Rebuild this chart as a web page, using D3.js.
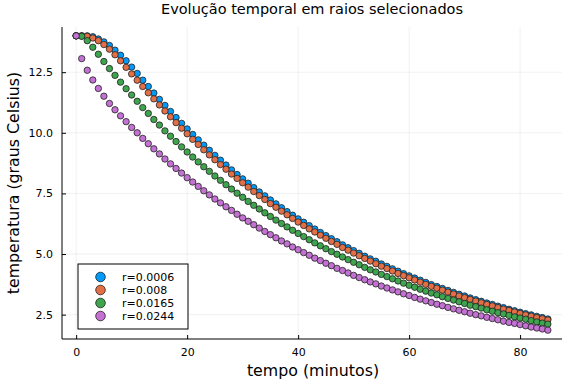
<!DOCTYPE html>
<html>
<head>
<meta charset="utf-8">
<script src="https://cdn.jsdelivr.net/npm/d3@7"></script>
<style>
  html, body { margin: 0; padding: 0; background: #fff; }
  svg { display: block; font-family: "DejaVu Sans", sans-serif; }
</style>
</head>
<body>
<div id="chart"></div>
<script>
// =========================
// DATA
// =========================
const tempo = d3.range(0, 86); // minutes 0..85

const r0006 = [14.00, 14.00, 14.00, 13.96, 13.87, 13.75, 13.60, 13.41, 13.20, 12.97,
  12.71, 12.45, 12.17, 11.91, 11.64, 11.38, 11.13, 10.88, 10.63, 10.39,
  10.16, 9.93, 9.71, 9.49, 9.28, 9.07, 8.87, 8.67, 8.47, 8.28,
  8.10, 7.92, 7.74, 7.56, 7.40, 7.23, 7.07, 6.91, 6.75, 6.60,
  6.45, 6.31, 6.17, 6.03, 5.89, 5.76, 5.63, 5.51, 5.38, 5.26,
  5.14, 5.03, 4.91, 4.80, 4.70, 4.59, 4.49, 4.39, 4.29, 4.19,
  4.10, 4.01, 3.92, 3.83, 3.74, 3.66, 3.58, 3.50, 3.42, 3.34,
  3.27, 3.19, 3.12, 3.05, 2.98, 2.92, 2.85, 2.79, 2.72, 2.66,
  2.60, 2.54, 2.49, 2.43, 2.38, 2.32];

const r008 = [14.00, 14.00, 13.98, 13.91, 13.80, 13.64, 13.45, 13.22, 12.97, 12.70,
  12.43, 12.17, 11.91, 11.65, 11.40, 11.15, 10.90, 10.66, 10.42, 10.19,
  9.96, 9.73, 9.52, 9.30, 9.09, 8.89, 8.69, 8.50, 8.30, 8.12,
  7.94, 7.76, 7.58, 7.41, 7.25, 7.08, 6.93, 6.77, 6.62, 6.47,
  6.32, 6.18, 6.04, 5.91, 5.78, 5.65, 5.52, 5.40, 5.27, 5.16,
  5.04, 4.93, 4.82, 4.71, 4.60, 4.50, 4.40, 4.30, 4.20, 4.11,
  4.02, 3.93, 3.84, 3.75, 3.67, 3.59, 3.51, 3.43, 3.35, 3.27,
  3.20, 3.13, 3.06, 2.99, 2.92, 2.86, 2.79, 2.73, 2.67, 2.61,
  2.55, 2.49, 2.44, 2.38, 2.33, 2.28];

const r0165 = [14.00, 13.98, 13.80, 13.53, 13.24, 12.94, 12.65, 12.37, 12.09, 11.82,
  11.56, 11.30, 11.04, 10.80, 10.55, 10.32, 10.08, 9.86, 9.64, 9.42,
  9.21, 9.00, 8.80, 8.60, 8.41, 8.22, 8.04, 7.86, 7.68, 7.51,
  7.34, 7.17, 7.01, 6.86, 6.70, 6.55, 6.40, 6.26, 6.12, 5.98,
  5.85, 5.72, 5.59, 5.46, 5.34, 5.22, 5.10, 4.99, 4.88, 4.77,
  4.66, 4.56, 4.45, 4.35, 4.26, 4.16, 4.07, 3.98, 3.89, 3.80,
  3.71, 3.63, 3.55, 3.47, 3.39, 3.32, 3.24, 3.17, 3.10, 3.03,
  2.96, 2.89, 2.83, 2.77, 2.70, 2.64, 2.58, 2.53, 2.47, 2.41,
  2.36, 2.31, 2.25, 2.20, 2.15, 2.11];

const r0244 = [14.00, 13.06, 12.58, 12.18, 11.83, 11.51, 11.21, 10.95, 10.70, 10.46,
  10.22, 10.00, 9.77, 9.55, 9.34, 9.13, 8.92, 8.72, 8.53, 8.34,
  8.15, 7.97, 7.79, 7.61, 7.44, 7.27, 7.11, 6.95, 6.80, 6.64,
  6.49, 6.35, 6.21, 6.07, 5.93, 5.80, 5.67, 5.54, 5.42, 5.29,
  5.18, 5.06, 4.95, 4.83, 4.73, 4.62, 4.52, 4.41, 4.32, 4.22,
  4.12, 4.03, 3.94, 3.85, 3.77, 3.68, 3.60, 3.52, 3.44, 3.36,
  3.29, 3.21, 3.14, 3.07, 3.00, 2.93, 2.87, 2.80, 2.74, 2.68,
  2.62, 2.56, 2.50, 2.45, 2.39, 2.34, 2.29, 2.23, 2.18, 2.14,
  2.09, 2.04, 1.99, 1.95, 1.91, 1.86];

const seriesNames = ["r=0.0006", "r=0.008", "r=0.0165", "r=0.0244"];
const seriesValues = [r0006, r008, r0165, r0244];
const seriesColors = ["#009AFA", "#E36F47", "#3EA44E", "#C371D2"];

const xTicks = [0, 20, 40, 60, 80];
const yTicks = [2.5, 5.0, 7.5, 10.0, 12.5];

// =========================
// SETUP
// =========================
const width = 576;
const height = 384;
const plot = { left: 62, right: 562, top: 27, bottom: 339 };

const svg = d3.select("#chart")
  .append("svg")
  .attr("width", width)
  .attr("height", height);

// 3% padding on both ends, like Plots.jl
const xMin = d3.min(tempo), xMax = d3.max(tempo);
const allY = seriesValues.flat();
const yMin = d3.min(allY), yMax = d3.max(allY);
const xPad = (xMax - xMin) * 0.03;
const yPad = (yMax - yMin) * 0.03;

const x = d3.scaleLinear()
  .domain([xMin - xPad, xMax + xPad])
  .range([plot.left, plot.right]);

const y = d3.scaleLinear()
  .domain([yMin - yPad, yMax + yPad])
  .range([plot.bottom, plot.top]);

// =========================
// GRID
// =========================
const grid = svg.append("g").attr("stroke", "#000").attr("stroke-opacity", 0.1).attr("stroke-width", 0.6);
grid.selectAll(".gx").data(xTicks).enter().append("line")
  .attr("x1", d => x(d)).attr("x2", d => x(d))
  .attr("y1", plot.top).attr("y2", plot.bottom);
grid.selectAll(".gy").data(yTicks).enter().append("line")
  .attr("x1", plot.left).attr("x2", plot.right)
  .attr("y1", d => y(d)).attr("y2", d => y(d));

// =========================
// AXES
// =========================
const xAxis = d3.axisBottom(x).tickValues(xTicks).tickSize(-4).tickPadding(9).tickFormat(d3.format("d"));
const yAxis = d3.axisLeft(y).tickValues(yTicks).tickSize(-4).tickPadding(9).tickFormat(d3.format(".1f"));

const gx = svg.append("g").attr("transform", `translate(0,${plot.bottom})`).call(xAxis);
const gy = svg.append("g").attr("transform", `translate(${plot.left},0)`).call(yAxis);

[gx, gy].forEach(g => {
  g.select(".domain").attr("stroke", "#000").attr("stroke-width", 1);
  g.selectAll(".tick line").attr("stroke", "#000").attr("stroke-width", 1);
  g.selectAll(".tick text")
    .attr("fill", "#000")
    .style("font-family", "DejaVu Sans, sans-serif")
    .style("font-size", "11px");
});
// remove the outer end-ticks of the domain path
gx.select(".domain").attr("d", `M${plot.left},0H${plot.right}`);
gy.select(".domain").attr("d", `M0,${plot.bottom}V${plot.top}`);

// =========================
// POINTS
// =========================
seriesValues.forEach((vals, i) => {
  svg.append("g")
    .selectAll("circle")
    .data(vals)
    .enter()
    .append("circle")
    .attr("cx", (d, j) => x(tempo[j]))
    .attr("cy", d => y(d))
    .attr("r", 3.2)
    .attr("fill", seriesColors[i])
    .attr("stroke", "#222")
    .attr("stroke-width", 0.8);
});

// =========================
// TITLE + LABELS
// =========================
const cx = (plot.left + plot.right) / 2;

svg.append("text")
  .attr("x", cx).attr("y", 13.5)
  .attr("text-anchor", "middle")
  .style("font-size", "14.5px")
  .text("Evolução temporal em raios selecionados");

svg.append("text")
  .attr("x", cx + 1).attr("y", 376)
  .attr("text-anchor", "middle")
  .style("font-size", "15.8px")
  .text("tempo (minutos)");

svg.append("text")
  .attr("transform", `translate(19,${(plot.top + plot.bottom) / 2}) rotate(-90)`)
  .attr("text-anchor", "middle")
  .style("font-size", "15.8px")
  .text("temperatura (graus Celsius)");

// =========================
// LEGEND
// =========================
const legend = svg.append("g").attr("transform", "translate(78,264)");
legend.append("rect")
  .attr("width", 110).attr("height", 65)
  .attr("fill", "#fff")
  .attr("stroke", "#000")
  .attr("stroke-width", 1);

seriesNames.forEach((name, i) => {
  const row = legend.append("g").attr("transform", `translate(0,${13 + i * 13})`);
  row.append("circle")
    .attr("cx", 22.5).attr("cy", 0)
    .attr("r", 4.8)
    .attr("fill", seriesColors[i])
    .attr("stroke", "#222")
    .attr("stroke-width", 0.8);
  row.append("text")
    .attr("x", 44).attr("y", 4)
    .style("font-size", "11px")
    .text(name);
});
</script>
</body>
</html>
